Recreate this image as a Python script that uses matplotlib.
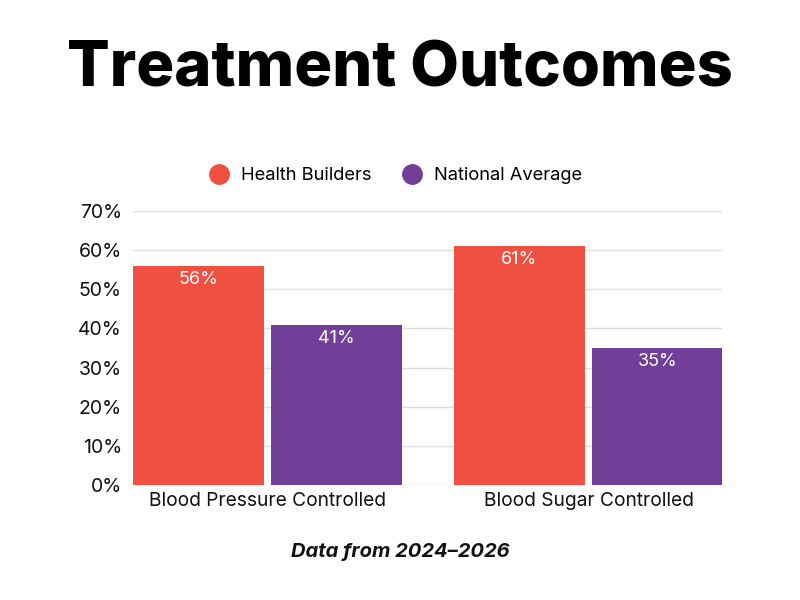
import numpy as np
import matplotlib.pyplot as plt

categories = ['Blood Pressure Controlled', 'Blood Sugar Controlled']
series_names = ['Health Builders', 'National Average']
health_builders = [56, 61]
national_average = [41, 35]
colors = ['#F05040', '#713F97']

plt.rcParams['font.family'] = ['Inter', 'DejaVu Sans']

fig = plt.figure(figsize=(8, 6), dpi=100)
ax = fig.add_axes([133 / 800, 1 - 485 / 600, (722 - 133) / 800, (485 - 211) / 600])

x = np.arange(len(categories))
width = 0.408
offset = 0.215
for vals, name, col, dx in [(health_builders, series_names[0], colors[0], -offset),
                            (national_average, series_names[1], colors[1], offset)]:
    bars = ax.bar(x + dx, vals, width, color=col, label=name, zorder=3)
    for b, v in zip(bars, vals):
        ax.text(b.get_x() + b.get_width() / 2, v - 1.3, f'{v}%', ha='center', va='top',
                color='white', fontsize=13, zorder=4)

ax.set_xlim(-0.419, 1.416)
ax.set_ylim(0, 70)
ax.set_yticks(range(0, 71, 10))
ax.set_yticklabels([f'{t}%' for t in range(0, 71, 10)], fontsize=14, color='#111111')
ax.set_xticks(x)
ax.set_xticklabels(categories, fontsize=13.8, color='#111111')
ax.tick_params(length=0)
ax.tick_params(axis='y', pad=8)
ax.tick_params(axis='x', pad=5)
ax.grid(axis='y', color='#dddddd', linewidth=1, zorder=0)
for s in ax.spines.values():
    s.set_visible(False)

fig.text(0.5, 1 - 70 / 600, 'Treatment Outcomes', ha='center', va='center',
         fontsize=45.5, fontweight='heavy', color='#000000')
fig.text(0.5, 1 - 552 / 600, 'Data from 2024–2026', ha='center', va='center',
         fontsize=14.5, fontweight='bold', fontstyle='italic', color='#111111')

# legend with circle markers
handles = [plt.Line2D([], [], marker='o', linestyle='', markersize=14, color=c) for c in colors]
fig.legend(handles, series_names, loc='center', bbox_to_anchor=(0.489, 1 - 176 / 600), ncol=2,
           frameon=False, fontsize=13.2, columnspacing=1.2, handletextpad=0.2)

fig.savefig('out.png', dpi=100, facecolor='white')
